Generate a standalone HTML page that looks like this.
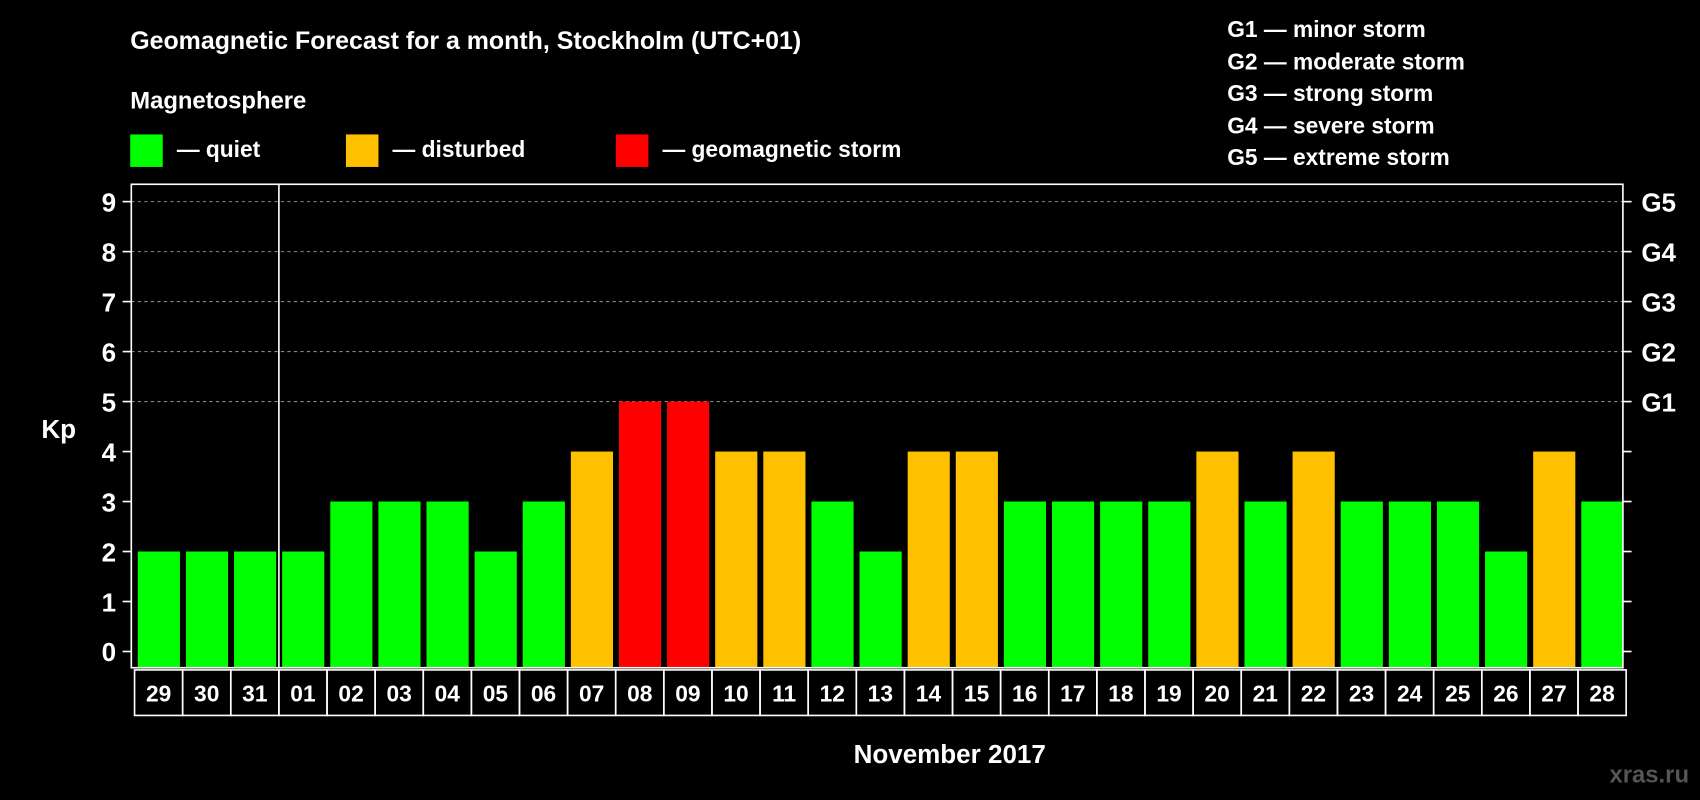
<!DOCTYPE html>
<html><head><meta charset="utf-8"><style>html,body{margin:0;padding:0;background:#000;}svg{display:block;}text{font-family:"Liberation Sans",Arial,sans-serif;font-weight:bold;fill:#fff;}</style></head>
<body>
<svg id="chart" width="1700" height="800" viewBox="0 0 1568 738" xmlns="http://www.w3.org/2000/svg">
<rect width="1568" height="738" fill="#000"/>
<text x="120" y="45" font-size="23">Geomagnetic Forecast for a month, Stockholm (UTC+01)</text>
<text x="120" y="100" font-size="22">Magnetosphere</text>
<g>
<rect x="120" y="124" width="30" height="30" fill="#00ff00"/>
<text x="163" y="145" font-size="21">— quiet</text>
<rect x="319" y="124" width="30" height="30" fill="#ffc000"/>
<text x="362" y="145" font-size="21">— disturbed</text>
<rect x="568" y="124" width="30" height="30" fill="#ff0000"/>
<text x="611" y="145" font-size="21">— geomagnetic storm</text>
</g>
<g font-size="21">
<text x="1132" y="34">G1 — minor storm</text>
<text x="1132" y="64">G2 — moderate storm</text>
<text x="1132" y="93">G3 — strong storm</text>
<text x="1132" y="123">G4 — severe storm</text>
<text x="1132" y="152">G5 — extreme storm</text>
</g>
<text x="38" y="404" font-size="24">Kp</text>
<text x="876" y="704" font-size="24" text-anchor="middle">November 2017</text>
<text x="1558" y="722" font-size="22" text-anchor="end" fill="#555" style="fill:#555">xras.ru</text>
<g id="grid"></g><g id="bars"></g><g id="axes"></g>
</svg>
<script>
const days=["29","30","31","01","02","03","04","05","06","07","08","09","10","11","12","13","14","15","16","17","18","19","20","21","22","23","24","25","26","27","28"];
const kp=[2,2,2,2,3,3,3,2,3,4,5,5,4,4,3,2,4,4,3,3,3,3,4,3,4,3,3,3,2,4,3];
const yTicks=[0,1,2,3,4,5,6,7,8,9];
const gLabels=["","","","","","G1","G2","G3","G4","G5"];
const NS="http://www.w3.org/2000/svg";
const L=121,R=1497,T=170,B=616;
const slot=(R-L)/days.length;
const y=v=>601-v*(601-186)/9;
const x=i=>L+i*slot;
function mk(t,a,p){const e=document.createElementNS(NS,t);for(const k in a)e.setAttribute(k,a[k]);p.appendChild(e);return e;}
const grid=document.getElementById('grid'),bars=document.getElementById('bars'),axes=document.getElementById('axes');
yTicks.forEach((v,i)=>{
  if(v>=5){const g=mk('line',{x1:L,x2:R,y1:y(v),y2:y(v),stroke:'#888','stroke-dasharray':'3,3','stroke-width':1},grid);
  
  }
  const t1=mk('line',{x1:L-8,x2:L,y1:y(v),y2:y(v),stroke:'#fff','stroke-width':1.5},axes);
  
  
  const t2=mk('line',{x1:R,x2:R+8,y1:y(v),y2:y(v),stroke:'#fff','stroke-width':1.5},axes);
  
  
  const lb=mk('text',{x:L-14,y:y(v)+9,'font-size':24,'text-anchor':'end'},axes);lb.textContent=v;
  
  
  if(gLabels[i]){const g=mk('text',{x:R+17,y:y(v)+9,'font-size':24},axes);g.textContent=gLabels[i];
  
  }
});
kp.forEach((v,i)=>{
  const c=v>=5?'#ff0000':(v>=4?'#ffc000':'#00ff00');
  const b=mk('rect',{x:x(i)+6,y:y(v),width:slot-5.5,height:B-y(v),fill:c},bars);
  
  
  const cell=mk('rect',{x:x(i)+3,y:618,width:slot,height:42,fill:'none',stroke:'#fff','stroke-width':1.5},axes);
  
  
  const t=mk('text',{x:x(i)+3+slot/2,y:647,'font-size':21,'text-anchor':'middle'},axes);t.textContent=days[i];
  
  
});
const fr=mk('rect',{x:L,y:T,width:R-L,height:B-T,fill:'none',stroke:'#fff','stroke-width':1.5},axes);


const ml=mk('line',{x1:x(3)+3,x2:x(3)+3,y1:T,y2:B,stroke:'#fff','stroke-width':1.5},axes);


</script>
</body></html>
